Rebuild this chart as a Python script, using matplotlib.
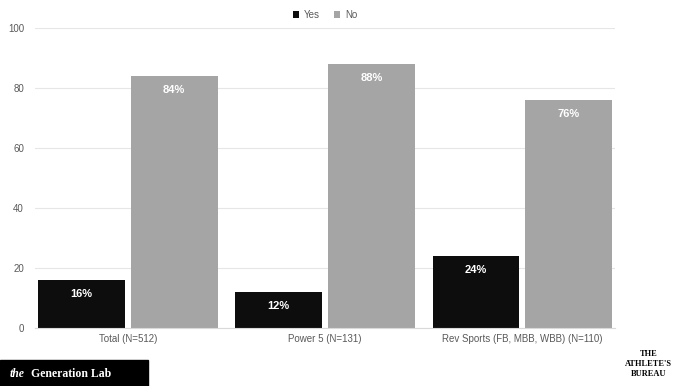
import numpy as np
import matplotlib
matplotlib.use("Agg")
import matplotlib.pyplot as plt
from matplotlib.patches import Rectangle

categories = ["Total (N=512)", "Power 5 (N=131)", "Rev Sports (FB, MBB, WBB) (N=110)"]
yes_vals = [16, 12, 24]
no_vals = [84, 88, 76]
yticks = [0, 20, 40, 60, 80, 100]

yes_color = "#0d0d0d"
no_color = "#a5a5a5"
text_gray = "#595959"

plt.rcParams['font.family'] = ['Liberation Sans', 'DejaVu Sans']

fig = plt.figure(figsize=(6.76, 3.86), dpi=100)
ax = fig.add_axes([0.052, 0.150, 0.858, 0.777])

x = np.arange(len(categories))
w = 0.44
gap = 0.015
b1 = ax.bar(x - w / 2 - gap, yes_vals, w, color=yes_color, label="Yes")
b2 = ax.bar(x + w / 2 + gap, no_vals, w, color=no_color, label="No")

for bars, vals in [(b1, yes_vals), (b2, no_vals)]:
    for r, v in zip(bars, vals):
        ax.text(r.get_x() + r.get_width() / 2, v - 3, f"{v}%", ha="center", va="top",
                color="white", fontsize=8, fontweight="bold")

ax.set_xlim(-0.47, 2.47)
ax.set_ylim(0, 100)
ax.set_yticks(yticks)
ax.set_xticks(x)
ax.set_xticklabels(categories)
ax.tick_params(axis="both", length=0, labelsize=7, colors=text_gray, pad=4)
ax.tick_params(axis="y", pad=8)
ax.grid(axis="y", color="#e6e6e6", linewidth=0.8)
ax.set_axisbelow(True)
for s in ["top", "right", "left"]:
    ax.spines[s].set_visible(False)
ax.spines["bottom"].set_color("#d9d9d9")

ax.legend(loc="upper center", bbox_to_anchor=(0.5, 1.09), ncol=2, frameon=False,
          fontsize=7, handlelength=0.6, handleheight=0.6, columnspacing=1.5,
          handletextpad=0.5, labelcolor=text_gray)

# logos
fig.patches.append(Rectangle((0, 0), 148 / 676, 26 / 386, transform=fig.transFigure,
                             color="black", zorder=0))
fig.text(10 / 676, 12 / 386, "the", color="white", fontsize=8.5,
         family="Liberation Serif", va="center", ha="left", style="italic", fontweight="bold")
fig.text(31 / 676, 12 / 386, "Generation Lab", color="white", fontsize=8.5,
         family="Liberation Serif", va="center", ha="left", fontweight="bold")
fig.text(672 / 676, 22 / 386, "THE\nATHLETE'S\nBUREAU", color="black", fontsize=6,
         family="Liberation Serif", va="center", ha="right", multialignment="center",
         fontweight="bold", linespacing=1.3)

fig.savefig("out.png", dpi=100)
